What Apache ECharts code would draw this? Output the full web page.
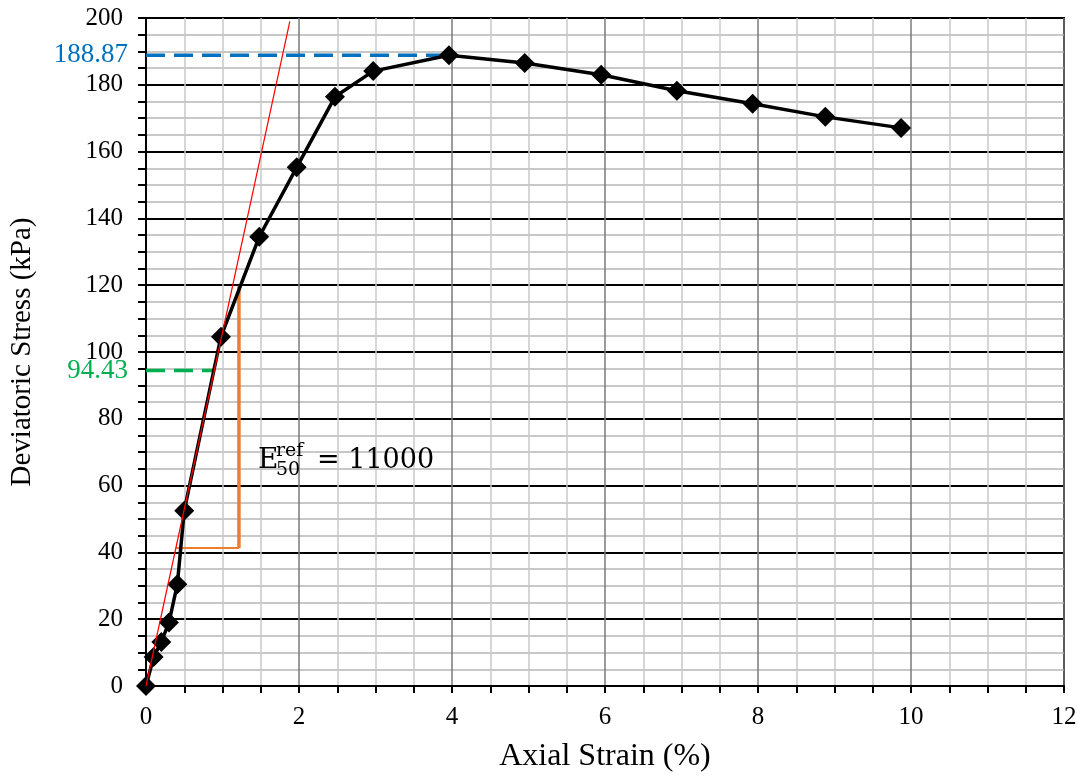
<!DOCTYPE html>
<html>
<head>
<meta charset="utf-8">
<script src="https://cdn.jsdelivr.net/npm/echarts@6/dist/echarts.min.js"></script>
<style>
  html, body { margin: 0; padding: 0; background: #fff; }
  #chart { width: 1083px; height: 778px; }
</style>
</head>
<body>
<div id="chart"></div>
<script>
// measured test points
const strain = [0, 0.1, 0.2, 0.3, 0.41, 0.5, 0.98, 1.48, 1.97, 2.47, 2.97, 3.96, 4.95, 5.95, 6.94, 7.93, 8.88, 9.87];
const stress = [0, 8.7, 13.2, 19.0, 30.5, 52.5, 104.6, 134.5, 155.3, 176.4, 184.1, 188.87, 186.5, 183.0, 178.2, 174.3, 170.4, 167.1];

// E50 construction
const tangentLine = [[0, 0], [1.88, 199]];
const e50Base = [[0.39, 41.3], [1.215, 41.3]];
const e50Rise = [[1.215, 41.3], [1.215, 119.8]];
const peakLine = [[0, 188.87], [3.96, 188.87]];
const halfLine = [[0, 94.43], [0.9, 94.43]];
const e50Label = { x: 1.464, y: 67.3, value: '11000' };

const serif = '"Liberation Serif", "Times New Roman", serif';
const mathFont = '"DejaVu Serif", serif';

const chart = echarts.init(document.getElementById('chart'));

const minorGrey = '#c8c8c8';

const option = {
    animation: false,
    grid: {
        left: 146, right: 19, top: 18, bottom: 91,
        show: true, borderColor: '#000', borderWidth: 2
    },
    xAxis: {
        type: 'value', min: 0, max: 12, interval: 0.5,
        name: 'Axial Strain (%)', nameLocation: 'middle', nameGap: 55,
        nameTextStyle: { fontFamily: serif, fontSize: 32, color: '#000' },
        axisLine: { lineStyle: { color: '#000', width: 2 } },
        axisTick: { show: true, length: 7, lineStyle: { color: '#000', width: 2 } },
        axisLabel: {
            fontFamily: serif, fontSize: 25, color: '#000', margin: 19,
            formatter: v => (v % 2 === 0 ? String(v) : '')
        },
        splitLine: {
            show: true,
            lineStyle: { color: ['#7a7a7a', minorGrey, minorGrey, minorGrey], width: 1.5 }
        }
    },
    yAxis: {
        type: 'value', min: 0, max: 200, interval: 5,
        name: 'Deviatoric Stress (kPa)', nameLocation: 'middle', nameGap: 109,
        nameTextStyle: { fontFamily: serif, fontSize: 29, color: '#000' },
        axisLine: { show: true, lineStyle: { color: '#000', width: 2 } },
        axisTick: { show: true, length: 8, lineStyle: { color: '#000', width: 2 } },
        axisLabel: {
            fontFamily: serif, fontSize: 25, color: '#000', margin: 23,
            formatter: v => (v % 20 === 0 ? String(v) : '')
        },
        splitLine: {
            show: true,
            lineStyle: { color: ['#000', minorGrey, minorGrey, minorGrey], width: 1.8 }
        }
    },
    series: [
        {
            type: 'line', data: peakLine, symbol: 'none', z: 3,
            lineStyle: { color: '#0070C0', width: 3.5, type: [19, 9] },
            markPoint: {
                symbol: 'circle', symbolSize: 0,
                data: [{ coord: peakLine[0], value: peakLine[0][1] }],
                label: {
                    show: true, position: 'left', distance: 18,
                    formatter: p => p.value.toFixed(2),
                    fontFamily: serif, fontSize: 27, color: '#0070C0'
                }
            }
        },
        {
            type: 'line', data: halfLine, symbol: 'none', z: 3,
            lineStyle: { color: '#00B050', width: 3.5, type: [19, 9] },
            markPoint: {
                symbol: 'circle', symbolSize: 0,
                data: [{ coord: halfLine[0], value: halfLine[0][1] }],
                label: {
                    show: true, position: 'left', distance: 18,
                    formatter: p => p.value.toFixed(2),
                    fontFamily: serif, fontSize: 27, color: '#00B050'
                }
            }
        },
        {
            type: 'line', data: e50Base, symbol: 'none', z: 3,
            lineStyle: { color: '#ED7D31', width: 2 }
        },
        {
            type: 'line', data: e50Rise, symbol: 'none', z: 3,
            lineStyle: { color: '#ED7D31', width: 3.5 }
        },
        {
            type: 'line', data: strain.map((s, i) => [s, stress[i]]),
            symbol: 'diamond', symbolSize: 20, z: 4,
            lineStyle: { color: '#000', width: 3.5 },
            itemStyle: { color: '#000' }
        },
        {
            type: 'line', data: tangentLine, symbol: 'none', z: 5,
            lineStyle: { color: '#FF0000', width: 1.2 }
        }
    ]
};

chart.setOption(option);

// E50 annotation, anchored in data space
const a = chart.convertToPixel({ gridIndex: 0 }, [e50Label.x, e50Label.y]);
chart.setOption({
    graphic: [
        { type: 'text', x: a[0], y: a[1], z: 10, style: { text: 'E', font: '28px ' + mathFont, fill: '#000', verticalAlign: 'middle' } },
        { type: 'text', x: a[0] + 18, y: a[1] - 10, z: 10, style: { text: 'ref', font: '19px ' + mathFont, fill: '#000', verticalAlign: 'middle' } },
        { type: 'text', x: a[0] + 18, y: a[1] + 9, z: 10, style: { text: '50', font: '19px ' + mathFont, fill: '#000', verticalAlign: 'middle' } },
        { type: 'text', x: a[0] + 59, y: a[1], z: 10, style: { text: '= ' + e50Label.value, font: '27px ' + mathFont, fill: '#000', verticalAlign: 'middle' } }
    ]
});
</script>
</body>
</html>
